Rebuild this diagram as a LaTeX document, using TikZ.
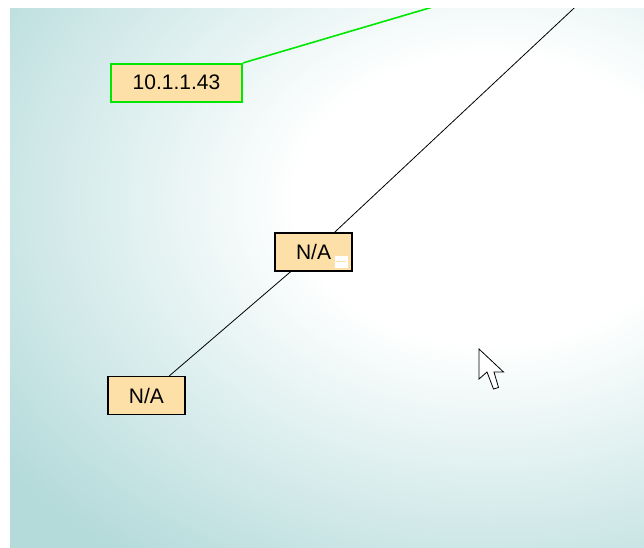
\documentclass[tikz,border=0pt]{standalone}
\usepackage{fontspec}
\setmainfont{Liberation Sans}
\usetikzlibrary{positioning}

\definecolor{bgteal}{RGB}{180,218,218}
\definecolor{bgmid}{RGB}{216,236,236}
\definecolor{boxfill}{RGB}{253,224,168}
\definecolor{linkgreen}{RGB}{0,232,0}
\pgfdeclareradialshading{bgglow}{\pgfpoint{0bp}{0bp}}{color(0bp)=(white); color(4.5bp)=(white); color(9.5bp)=(bgmid); color(14bp)=(bgteal); color(50bp)=(bgteal)}

\begin{document}
\begin{tikzpicture}[x=1pt, y=-1pt,
    hostbox/.style={draw=black, line width=1.5pt, fill=boxfill, minimum width=77pt, minimum height=38pt, inner sep=0pt, font=\fontsize{21}{24}\selectfont},
    selbox/.style={hostbox, draw=linkgreen, line width=2pt, minimum width=131pt},
    tagbox/.style={fill=white, minimum width=13pt, minimum height=12pt, inner sep=0pt},
    link/.style={black, line width=0.8pt},
    sellink/.style={linkgreen, line width=1.6pt}]
    \useasboundingbox (0,0) rectangle (644,547);

    % background
    \begin{scope}
        \clip (10,8) rectangle (644,547);
        \fill[bgteal] (10,8) rectangle (644,547);
        \shade[shading=bgglow] (490,200) ellipse (1080 and 800);

        % hosts
        \node[selbox] (ip43) at (176.5,82.5) {10.1.1.43};
        \node[hostbox] (na1) at (313.5,252) {N/A\hspace{4pt}};
        \node[hostbox] (na2) at (146.5,395.5) {N/A};
        \node[tagbox, above left=4pt and 5pt of na1.south east] (na1tag) {};
        \draw[boxfill, line width=1pt] ([xshift=2pt]na1tag.west) -- ([xshift=-2pt]na1tag.east);

        % links leaving the view
        \coordinate (upgreen) at (470,-4);
        \coordinate (upblack) at (587,-4);
        \draw[sellink] (ip43) -- (upgreen);
        \draw[link] (na1) -- (upblack);
        \draw[link] (na1) -- (na2);

        % mouse pointer
        \draw[black, fill=white, line width=0.8pt, line join=miter]
            (479,349) -- ++(0,30) -- ++(8,-7) -- ++(6.5,17) -- ++(5,-1.5) -- ++(-4.5,-15.5) -- ++(9.5,0) -- cycle;
    \end{scope}
\end{tikzpicture}
\end{document}
